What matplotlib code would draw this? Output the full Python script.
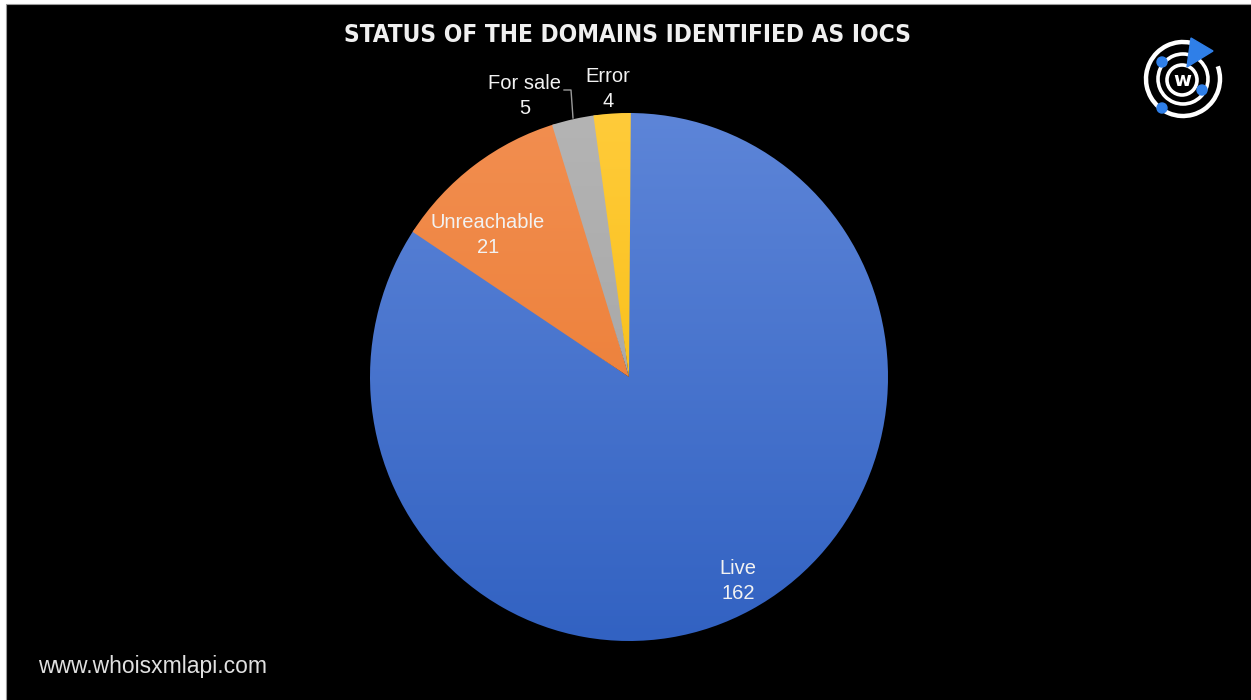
import numpy as np
import matplotlib
matplotlib.use("Agg")
import matplotlib.pyplot as plt
from matplotlib.colors import LinearSegmentedColormap
from matplotlib.patches import Rectangle, Circle, Arc, Polygon, Wedge

# ---- data ----
categories = ["Live", "Unreachable", "For sale", "Error"]
values = [162, 21, 5, 4]
top_colors = ["#5d85d8", "#f28e50", "#b4b4b4", "#ffcb3a"]
bottom_colors = ["#3262c2", "#e9772a", "#9e9e9e", "#f5b800"]
title = "STATUS OF THE DOMAINS IDENTIFIED AS IOCS"
website = "www.whoisxmlapi.com"

W, H = 1251, 700
fig = plt.figure(figsize=(W / 100, H / 100), dpi=100)
fig.patch.set_facecolor("white")

# black panel
bg = fig.add_axes([0, 0, 1, 1])
bg.set_xlim(0, W)
bg.set_ylim(H, 0)
bg.axis("off")
bg.add_patch(Rectangle((6, 4), W, H, facecolor="black", edgecolor="#9a9a9a", lw=0.8))

# pie axes (pixel placement)
cx, cy, rx, ry = 629, 377, 259, 264
ax = fig.add_axes([(cx - rx) / W, (H - cy - ry) / H, 2 * rx / W, 2 * ry / H])
wedges, _ = ax.pie(values, startangle=90, counterclock=False, radius=1,
                   wedgeprops=dict(linewidth=0))
ax.set_aspect("auto")
ax.axis("off")

grad = np.linspace(1, 0, 256).reshape(-1, 1)
for w, tc, bc in zip(wedges, top_colors, bottom_colors):
    w.set_visible(False)
    # slightly widened clip wedge to hide anti-aliasing seams
    clip = Wedge(w.center, w.r, w.theta1 - 0.4, w.theta2 + 0.4,
                 transform=ax.transData)
    cmap = LinearSegmentedColormap.from_list("g", [bc, tc])
    im = ax.imshow(grad, cmap=cmap, extent=[-1, 1, -1, 1], aspect="auto",
                   origin="upper", zorder=1)
    im.set_clip_path(clip)

ax.set_xlim(-1, 1)
ax.set_ylim(-1, 1)

# overlay for text
ov = fig.add_axes([0, 0, 1, 1])
ov.set_xlim(0, W)
ov.set_ylim(H, 0)
ov.axis("off")
ov.patch.set_alpha(0)

lab_kw = dict(color="#f2f2f2", fontsize=14.5, family=["Liberation Sans", "DejaVu Sans"],
              ha="center", va="center", linespacing=1.4)
ov.text(738, 581, f"{categories[0]}\n{values[0]}", **lab_kw)
ov.text(488, 235, f"{categories[1]}\n{values[1]}", **lab_kw)
ov.text(525, 96, f"{categories[2]}\n{values[2]}", **lab_kw)
ov.text(608, 89, f"{categories[3]}\n{values[3]}", **lab_kw)
# leader line for "For sale"
ov.plot([564, 571, 573], [90, 90, 118], color="#9a9a9a", lw=1)

# title
ov.text(628, 35, title, color="#f0f0f0", fontsize=17.5, fontweight="bold",
        fontstretch="condensed", family=["DejaVu Sans"], ha="center", va="center")

# website
ov.text(38, 667, website, color="#e0e0e0", fontsize=16.5,
        family=["Liberation Sans", "DejaVu Sans"], ha="left", va="center")

# logo
lx, ly = 1183, 79
blue = "#2f7fe8"
ov.add_patch(Arc((lx, ly), 74, 74, theta1=-20, theta2=282, color="white", lw=3.2))
ov.add_patch(Arc((lx, ly), 50, 50, theta1=0, theta2=360, color="white", lw=2.6))
ov.add_patch(Circle((lx - 1, ly + 1), 15, facecolor="none", edgecolor="white", lw=2.6))
ov.text(lx - 1, ly + 2, "w", color="white", fontsize=14, fontweight="bold",
        family=["DejaVu Sans"], ha="center", va="center")
for dx, dy in [(-21, -17), (19, 11), (-21, 29)]:
    ov.add_patch(Circle((lx + dx, ly + dy), 5, color=blue))
ov.add_patch(Polygon([(lx + 4, ly - 12), (lx + 8, ly - 41), (lx + 30, ly - 28)],
                     closed=True, color=blue))

fig.savefig("out.png", dpi=100, facecolor=fig.get_facecolor())
